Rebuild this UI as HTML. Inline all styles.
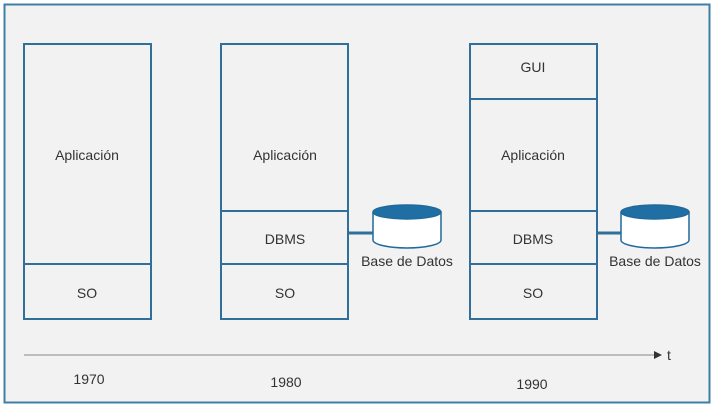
<!DOCTYPE html>
<html><head><style>
body{margin:0;background:#fff}
svg{display:block}
text{font-family:"Liberation Sans",sans-serif;fill:#333;font-size:14px}
</style></head><body>
<svg width="714" height="409" viewBox="0 0 714 409">
<rect x="0" y="0" width="714" height="409" fill="#fff"/>
<rect x="4.5" y="4.5" width="705" height="398" fill="#f2f2f2" stroke="#3f7fa6" stroke-width="2"/>
<g fill="none" stroke="#2f6f9a" stroke-width="2">
<rect x="24" y="44" width="127" height="275"/><line x1="24" y1="264" x2="151" y2="264"/>
<rect x="221" y="44" width="127" height="275"/><line x1="221" y1="211" x2="348" y2="211"/><line x1="221" y1="264" x2="348" y2="264"/>
<rect x="470" y="44" width="127" height="275"/><line x1="470" y1="99" x2="597" y2="99"/><line x1="470" y1="211" x2="597" y2="211"/><line x1="470" y1="264" x2="597" y2="264"/>
<line x1="348" y1="233" x2="373" y2="233" stroke-width="3"/>
<line x1="597" y1="233" x2="621" y2="233" stroke-width="3"/>
</g>
<g stroke="#1f6a9a" stroke-width="1.5">
<path d="M373 212 v28 a34 8 0 0 0 68 0 v-28" fill="#fff"/>
<ellipse cx="407" cy="212" rx="34" ry="7" fill="#1f6fa5"/>
<path d="M621 212 v28 a34 8 0 0 0 68 0 v-28" fill="#fff"/>
<ellipse cx="655" cy="212" rx="34" ry="7" fill="#1f6fa5"/>
</g>
<g text-anchor="middle">
<text x="87" y="160">Aplicación</text><text x="87" y="298">SO</text>
<text x="285" y="160">Aplicación</text><text x="285" y="244">DBMS</text><text x="285" y="298">SO</text>
<text x="533" y="72">GUI</text><text x="533" y="160">Aplicación</text><text x="533" y="244">DBMS</text><text x="533" y="298">SO</text>
<text x="407" y="266">Base de Datos</text><text x="655" y="266">Base de Datos</text>
<text x="89" y="384" font-size="15">1970</text>
<text x="286" y="387" font-size="15">1980</text>
<text x="532" y="389" font-size="15">1990</text>
</g>
<line x1="24" y1="355" x2="655" y2="355" stroke="#888" stroke-width="1"/>
<polygon points="654,351 662,355 654,359" fill="#333"/>
<text x="667" y="360" font-size="14">t</text>
</svg>
</body></html>
